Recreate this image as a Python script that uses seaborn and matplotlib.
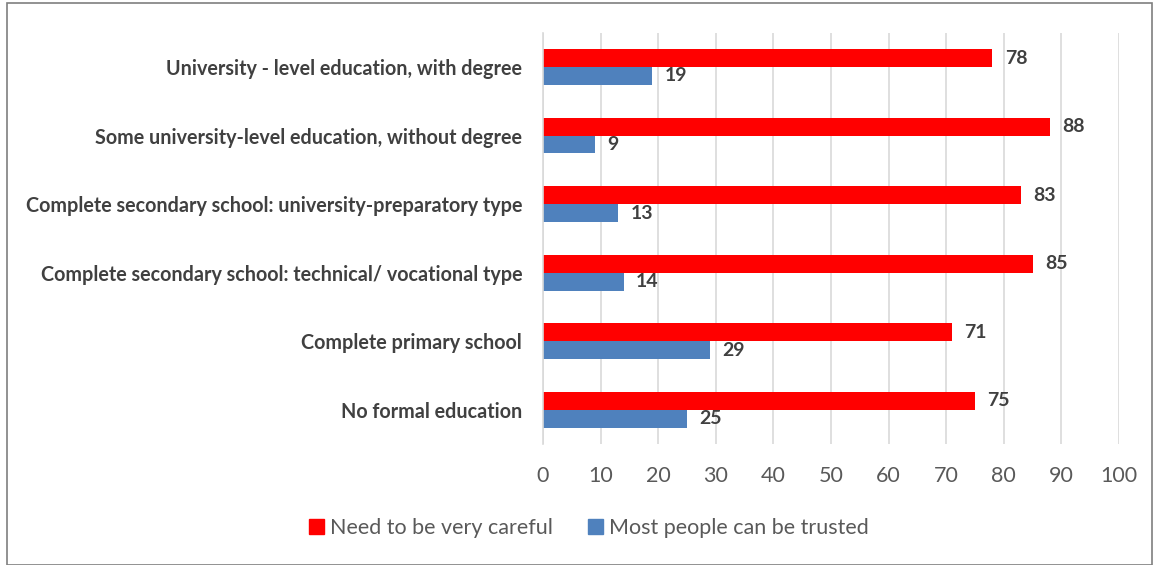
import matplotlib
matplotlib.use("Agg")
import matplotlib.pyplot as plt
import seaborn as sns
import pandas as pd
from matplotlib.patches import Rectangle

categories = [
    "University - level education, with degree",
    "Some university-level education, without degree",
    "Complete secondary school: university-preparatory type",
    "Complete secondary school: technical/ vocational type",
    "Complete primary school",
    "No formal education",
]
careful = [78, 88, 83, 85, 71, 75]
trusted = [19, 9, 13, 14, 29, 25]
series = ["Need to be very careful", "Most people can be trusted"]
colors = ["#FF0000", "#4F81BD"]
xticks = [0, 10, 20, 30, 40, 50, 60, 70, 80, 90, 100]

df = pd.DataFrame({
    "category": categories * 2,
    "value": careful + trusted,
    "series": [series[0]] * len(categories) + [series[1]] * len(categories),
})

sns.set_theme(style="white")
plt.rcParams["font.family"] = ["Lato", "DejaVu Sans"]

fig = plt.figure(figsize=(11.59, 5.65), dpi=100)
ax = fig.add_axes([0.4685, 0.214, 0.4970, 0.728])

sns.barplot(data=df, y="category", x="value", hue="series", hue_order=series,
            palette=colors, orient="h", width=0.52, ax=ax, legend=False,
            saturation=1, edgecolor="none", linewidth=0)

ax.set_xlim(0, 100)
ax.set_xticks(xticks)
ax.set_xticklabels([str(t) for t in xticks], fontsize=15.5, color="#595959")
ax.tick_params(axis="x", length=0, pad=16)
ax.tick_params(axis="y", length=0, pad=15)
for lab in ax.get_yticklabels():
    lab.set_fontsize(14.2)
    lab.set_fontweight("bold")
    lab.set_color("#404040")
ax.set_xlabel("")
ax.set_ylabel("")
ax.xaxis.grid(True, color="#D9D9D9", linewidth=1.2)
ax.set_axisbelow(True)
for s in ["top", "right", "bottom"]:
    ax.spines[s].set_visible(False)
ax.spines["left"].set_color("#D9D9D9")
ax.spines["left"].set_linewidth(1.2)

for cont in ax.containers:
    ax.bar_label(cont, padding=9, fontsize=14, fontweight="bold", color="#404040")

handles = [Rectangle((0, 0), 1, 1, color=c) for c in colors]
fig.legend(handles, series, loc="center", bbox_to_anchor=(0.508, 0.065), ncol=2,
           frameon=False, fontsize=15.5, handlelength=0.7, handleheight=0.7,
           handletextpad=0.3, columnspacing=1.6, labelcolor="#595959")

fig.patches.append(Rectangle((0.006, 0.0), 0.988, 0.995, transform=fig.transFigure,
                             fill=False, edgecolor="#7F7F7F", linewidth=1.2))

fig.savefig("out.png", dpi=100)
